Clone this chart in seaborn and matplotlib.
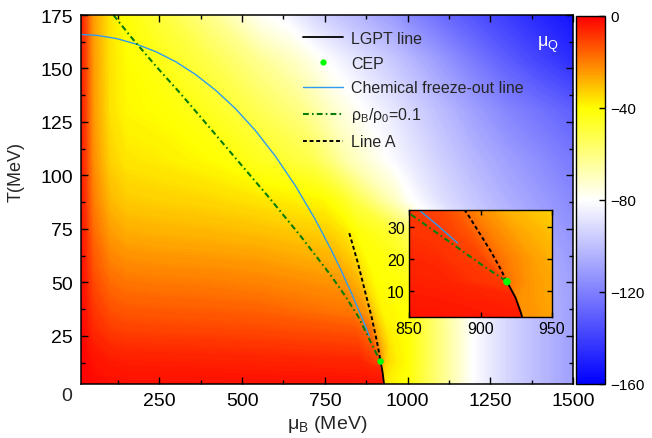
import numpy as np
import matplotlib
matplotlib.use("Agg")
import matplotlib.pyplot as plt
import seaborn as sns
from matplotlib.colors import LinearSegmentedColormap, Normalize
from matplotlib.cm import ScalarMappable
from matplotlib.ticker import MultipleLocator
from matplotlib.lines import Line2D

# ---------------- data ----------------
# mu_Q field: rows of temperature, columns of mu_B (per row, since columns hug the transition line)
T_rows = [0, 4, 8, 13, 20, 28, 36, 45, 57, 73, 88, 107, 130, 154, 175]
muB_low = [0, 25, 50, 100, 150, 250, 400, 550]
muB_high = [960, 1000, 1100, 1200, 1300, 1400, 1500]
muB_band = [
    [870, 929.5, 930.5, 945],
    [868, 927.5, 928.5, 943],
    [864.7, 924.2, 925.2, 939.7],
    [858.5, 918, 919, 933.5],
    [851, 896, 921, 946],
    [841, 886, 911, 936],
    [830, 875, 900, 925],
    [815, 860, 885, 910],
    [795, 840, 865, 890],
    [764, 809, 834, 859],
    [740, 785, 810, 835],
    [710, 755, 780, 805],
    [680, 725, 750, 775],
    [655, 700, 725, 750],
    [630, 675, 700, 725],
]
muQ_rows = [
    [0, -0.6, -1.5, -2.2, -2.4, -2.5, -2.6, -2.7, -3.0, -3.5, -36, -38, -39, -41, -61, -81, -93, -102, -110],
    [0, -0.8, -1.8, -2.6, -2.9, -3.0, -3.1, -3.2, -3.5, -4.0, -35, -37.5, -39, -41, -61, -81, -93, -102, -110],
    [0, -1.0, -2.4, -3.5, -3.9, -4.0, -4.1, -4.3, -4.7, -5.5, -33, -36.5, -38.5, -41, -61, -81, -93, -102, -110],
    [0, -1.3, -3.0, -4.4, -4.8, -5.0, -5.2, -5.5, -6.0, -12, -22, -33, -37, -40.5, -61, -81, -93, -102, -110],
    [0, -1.9, -4.5, -6.6, -7.3, -7.5, -7.8, -8.2, -9.5, -14, -28, -36, -38, -40.5, -61, -81, -93, -102, -110],
    [0, -2.8, -6.6, -9.7, -10.7, -11, -11.3, -11.8, -13.5, -18, -30, -37, -39, -41, -61, -81, -93, -102, -110],
    [0, -3.5, -8.4, -12.3, -13.6, -14, -14.4, -15, -19, -24, -33, -39, -39.5, -41.5, -62, -81, -93, -102, -110],
    [0, -4.4, -10.5, -15.4, -17, -17.5, -18, -19, -22, -27, -35, -39.5, -40.5, -42, -66, -83, -95, -103, -110],
    [0, -5.5, -13.2, -19.4, -21.3, -22, -22.6, -23.5, -27, -31, -37, -40.5, -42, -46, -72, -88, -97, -104, -111],
    [0, -7, -16.8, -24.6, -27.2, -28, -28.8, -30, -33, -36, -39, -42, -48, -54, -77, -92, -100, -107, -114],
    [0, -8.3, -19.8, -29, -32, -33, -34, -36, -39, -43, -46, -50, -70, -78, -90, -98, -105, -111, -117],
    [0, -9.4, -22.5, -33, -36.4, -37.5, -40, -45, -52, -58, -62, -66, -82, -86, -95, -103, -110, -116, -122],
    [0, -10, -24.3, -35.6, -39.3, -40.5, -45, -53, -61, -66, -69, -72, -88, -92, -101, -110, -118, -124, -130],
    [0, -10.3, -24.6, -36, -40, -44, -52, -63, -71, -75, -77.5, -80, -98, -102, -112, -122, -131, -139, -146],
    [0, -10.5, -25, -36.5, -41.5, -49, -62, -78.5, -83, -88, -91, -93.5, -112, -117, -126, -134, -141, -148, -154],
]

# inset field (own colouring as in the picture)
inset_T = [0, 4, 8, 13, 20, 28, 36]
inset_muB = [
    [840, 870, 929.5, 930.5, 945, 960],
    [840, 870, 927.5, 928.5, 943, 960],
    [840, 870, 924.2, 925.2, 940, 960],
    [840, 870, 918, 919, 934, 960],
    [840, 870, 901, 916, 936, 960],
    [840, 870, 891, 906, 926, 960],
    [840, 870, 880, 895, 915, 960],
]
inset_muQ = [
    [-3.5, -3.8, -4.5, -23, -25, -26.5],
    [-3.8, -4.0, -5.0, -23, -25, -27],
    [-4.2, -4.5, -6.0, -22.5, -25, -27.5],
    [-5.0, -5.5, -10, -18, -24, -28],
    [-6.0, -7.0, -11, -19, -25, -30],
    [-7.5, -9.0, -13, -20, -26, -32],
    [-9.0, -11, -14, -21, -28, -35],
]

# lines
lgpt_muB = [918.5, 921.5, 924.5, 926.5, 928.5, 930]
lgpt_T = [13, 10.5, 8, 5.5, 3, 0]
cep_muB = [918.5]
cep_T = [13]
fo_muB = [13, 60, 120, 180, 240, 300, 360, 420, 480, 540, 600, 660, 720, 770, 800, 830, 850, 870, 884]
fo_T = [165.9, 165.5, 164.0, 161.4, 157.8, 153.1, 147.1, 139.8, 131.2, 121.0, 109.1, 95.4, 79.7,
        65.0, 55.3, 45.1, 37.9, 30.5, 25.0]
rho_muB = [111, 160, 240, 313, 390, 464, 530, 585, 680, 766, 810, 851, 884, 900, 918.5]
rho_T = [175, 165.5, 151, 138.4, 124.5, 111, 99, 89, 71, 53.7, 44, 34, 23.6, 18.5, 13]
lineA_muB = [824, 850, 876, 891, 907, 913, 918.5]
lineA_T = [73, 59, 43, 34, 22.6, 17.8, 13]

cbar_ticks = [0, -40, -80, -120, -160]
legend_labels = ["LGPT line", "CEP", "Chemical freeze-out line",
                 r"$\mathregular{ρ_B/ρ_0}$=0.1", "Line A"]

# ---------------- style ----------------
sns.set_theme(style="ticks")
plt.rcParams["font.family"] = ["Liberation Sans", "DejaVu Sans"]
plt.rcParams["mathtext.fontset"] = "custom"
plt.rcParams["mathtext.rm"] = "Liberation Sans"
plt.rcParams["mathtext.it"] = "Liberation Sans:italic"
plt.rcParams["mathtext.bf"] = "Liberation Sans:bold"
plt.rcParams["axes.axisbelow"] = False

cmap = LinearSegmentedColormap.from_list(
    "muq", [(0.0, "#0000ff"), (0.5, "#ffffff"), (0.75, "#ffff00"), (1.0, "#ff0000")])
norm = Normalize(vmin=-160, vmax=0)
levels = np.linspace(-160, 0, 321)

c_blue = "#2e9bf0"
c_green = "#0a7d0a"
c_cep = "#00ff00"
dash_rho = (2.8, 1.5, 0.8, 1.5)
dash_A = (2.0, 1.4)

fig = plt.figure(figsize=(6.52, 4.39), dpi=100)
ax = fig.add_axes([81 / 652, 54 / 439, 492 / 652, 369 / 439])
ax.set_axisbelow(False)

# main field
X = np.array([muB_low + band + muB_high for band in muB_band], dtype=float)
Y = np.repeat(np.array(T_rows, dtype=float)[:, None], X.shape[1], axis=1)
Z = np.array(muQ_rows, dtype=float)
ax.contourf(X, Y, Z, levels=levels, cmap=cmap, norm=norm, extend="both", antialiased=False)


def draw_lines(a, ms=22):
    sns.lineplot(x=fo_muB, y=fo_T, ax=a, color=c_blue, lw=1.0, sort=False, estimator=None)
    sns.lineplot(x=rho_muB, y=rho_T, ax=a, color=c_green, lw=1.5, sort=False, estimator=None)
    a.lines[-1].set_dashes(dash_rho)
    sns.lineplot(x=lineA_muB, y=lineA_T, ax=a, color="black", lw=1.4, sort=False, estimator=None)
    a.lines[-1].set_dashes(dash_A)
    sns.lineplot(x=lgpt_muB, y=lgpt_T, ax=a, color="black", lw=1.3, sort=False, estimator=None)
    sns.scatterplot(x=cep_muB, y=cep_T, ax=a, color=c_cep, s=ms, edgecolor="none", zorder=6)


draw_lines(ax)

ax.set_xlim(13, 1500)
ax.set_ylim(2.5, 175)
ax.xaxis.set_major_locator(MultipleLocator(250))
ax.xaxis.set_minor_locator(MultipleLocator(125))
ax.yaxis.set_major_locator(MultipleLocator(25))
ax.yaxis.set_minor_locator(MultipleLocator(12.5))
ax.tick_params(which="both", direction="in", top=True, right=True, width=1.0, colors="black",
               labelsize=14, pad=6)
ax.tick_params(which="major", length=5)
ax.tick_params(which="minor", length=3)
for s in ax.spines.values():
    s.set_linewidth(1.1)
    s.set_color("black")
    s.set_zorder(5)
ax.set_xlabel(r"$\mathregular{μ_B}$ (MeV)", fontsize=14, labelpad=3)
ax.set_ylabel("T(MeV)", fontsize=13)
ax.yaxis.set_label_coords(-0.114, 0.577)
fig.text(72 / 652, 1 - 397 / 439, "0", ha="right", va="center", fontsize=14)

ax.text(0.949, 0.921, r"$\mathregular{μ_Q}$", transform=ax.transAxes, color="white",
        fontsize=13, ha="center", va="center")

handles = [
    Line2D([], [], color="black", lw=1.3),
    Line2D([], [], color=c_cep, marker="o", ls="none", markersize=4.5, markeredgewidth=0),
    Line2D([], [], color=c_blue, lw=1.0),
    Line2D([], [], color=c_green, lw=1.5, dashes=dash_rho),
    Line2D([], [], color="black", lw=1.4, dashes=dash_A),
]
ax.legend(handles, legend_labels, loc="upper left", bbox_to_anchor=(0.438, 0.975), frameon=False,
          fontsize=11.5, handlelength=2.5, handletextpad=0.5, labelspacing=0.62, borderaxespad=0)

# colorbar
cax = fig.add_axes([576 / 652, 54 / 439, 29 / 652, 368 / 439])
cb = fig.colorbar(ScalarMappable(norm=norm, cmap=cmap), cax=cax, ticks=cbar_ticks)
cb.outline.set_linewidth(1.0)
cb.outline.set_edgecolor("black")
cax.tick_params(direction="in", length=4, width=1, labelsize=11, pad=4, colors="black")
cax.set_yticklabels([str(t) for t in cbar_ticks])

# inset
axi = fig.add_axes([409 / 652, 121 / 439, 143 / 652, 107 / 439])
axi.set_axisbelow(False)
Xi = np.array(inset_muB, dtype=float)
Yi = np.repeat(np.array(inset_T, dtype=float)[:, None], Xi.shape[1], axis=1)
Zi = np.array(inset_muQ, dtype=float)
axi.contourf(Xi, Yi, Zi, levels=levels, cmap=cmap, norm=norm, extend="both", antialiased=False)
draw_lines(axi, ms=30)
axi.set_xlim(850, 950)
axi.set_ylim(2, 35.3)
axi.set_xticks([850, 900, 950])
axi.set_yticks([10, 20, 30])
axi.tick_params(which="both", direction="in", top=True, right=True, length=3.5, width=1,
                labelsize=11.5, pad=3, colors="black")
for s in axi.spines.values():
    s.set_linewidth(1.0)
    s.set_color("black")
axi.set_xlabel("")
axi.set_ylabel("")

fig.savefig("out.png", dpi=100)
